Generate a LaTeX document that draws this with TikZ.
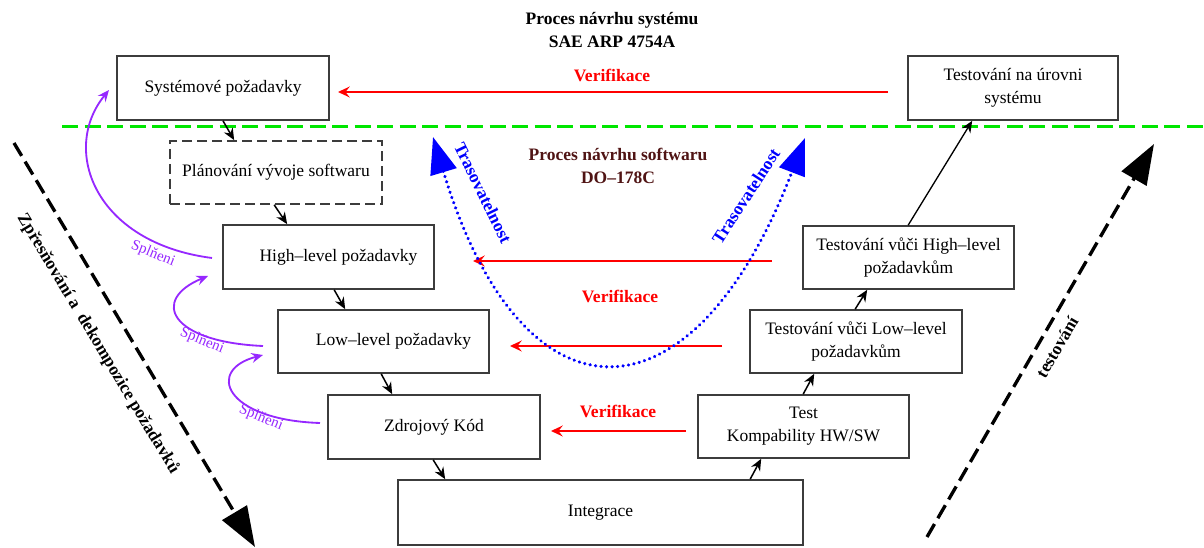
\documentclass[tikz,border=0pt]{standalone}
\usepackage{fontspec}
\setmainfont{Liberation Serif}
\usetikzlibrary{arrows.meta,calc}
\definecolor{boxgray}{RGB}{60,60,60}
\definecolor{vgreen}{RGB}{0,230,0}
\definecolor{sred}{RGB}{255,0,0}
\definecolor{tblue}{RGB}{0,0,255}
\definecolor{spl}{RGB}{150,40,255}
\definecolor{swmaroon}{RGB}{80,20,20}
\newcommand\fsmain{\fontsize{10.5}{13.8}\selectfont}
\newcommand\fsspl{\fontsize{9}{10.5}\selectfont}
\begin{document}
\begin{tikzpicture}[x=0.6pt,y=-0.6pt,
  box/.style={draw=boxgray, line width=1pt, minimum width=211*0.6pt, minimum height=63*0.6pt,
              align=center, font=\fsmain, inner sep=2pt},
  dashbox/.style={dash pattern=on 6pt off 3pt},
  conn/.style={draw=black, line width=0.9pt, -{Stealth[length=7pt,width=6pt]}},
  verif/.style={draw=sred, line width=1.1pt, -{Stealth[length=7pt,width=6.5pt,inset=2.5pt]}},
  verlab/.style={text=sred, font=\fsmain\bfseries},
  splarrow/.style={draw=spl, line width=1.1pt, -{Stealth[length=7pt,width=6pt,inset=2.5pt]}},
  spllab/.style={text=spl, font=\fsspl},
  trace/.style={draw=tblue, line width=2.1pt, line cap=round, dash pattern=on 0.01pt off 3.3pt,
                {Triangle[length=22pt,width=16pt]}-{Triangle[length=22pt,width=16pt]}},
  tracelab/.style={text=tblue, font=\fsmain\bfseries},
  bigarrow/.style={draw=black, line width=2pt, dash pattern=on 9pt off 4pt,
                   -{Triangle[length=24pt,width=17pt]}},
  biglab/.style={text=black, font=\fsmain\bfseries}
]
\useasboundingbox (0,0) rectangle (1204,548);

% green separator
\coordinate (gl) at (62,127);
\coordinate (gr) at (1204,127);
\draw[vgreen, line width=1.8pt, dash pattern=on 9.6pt off 3.9pt] (gl) -- (gr);

% titles
\node[font=\fsmain\bfseries, align=center] (title) at (612,30) {Proces návrhu systému\\SAE ARP 4754A};
\node[font=\fsmain\bfseries, align=center, text=swmaroon] (swtitle) at (618,166) {Proces návrhu softwaru\\DO–178C};

% boxes
\node[box, minimum width=212*0.6pt, minimum height=64*0.6pt] (sys) at (223,88) {Systémové požadavky};
\node[box, minimum width=210*0.6pt, minimum height=64*0.6pt] (tsys) at (1013,88) {Testování na úrovni\\systému};
\node[box, dashbox, minimum width=212*0.6pt] (plan) at (276,172.5) {Plánování vývoje softwaru};
\node[box, minimum height=64*0.6pt] (hl) at (328.5,257) {\hspace*{12pt}High–level požadavky};
\node[box] (ll) at (383.5,341.5) {\hspace*{12pt}Low–level požadavky};
\node[box, minimum width=212*0.6pt, minimum height=64*0.6pt] (zk) at (434,427) {Zdrojový Kód};
\node[box, minimum width=405*0.6pt, minimum height=65*0.6pt] (integ) at (600.5,512.5) {Integrace};
\node[box] (hwsw) at (803.5,426.5) {Test\\Kompability HW/SW};
\node[box, minimum width=212*0.6pt] (tll) at (856,341.5) {Testování vůči Low–level\\požadavkům};
\node[box] (thl) at (908.5,257.5) {Testování vůči High–level\\požadavkům};

% flow arrows
\draw[conn] (sys.south) -- ($(plan.north west)+(65,0)$);
\draw[conn] ($(plan.south west)+(105,0)$) -- ($(hl.north west)+(65,0)$);
\draw[conn] ($(hl.south west)+(112,0)$) -- ($(ll.north west)+(68,0)$);
\draw[conn] ($(ll.south west)+(104,0)$) -- ($(zk.north west)+(65,0)$);
\draw[conn] ($(zk.south west)+(106,0)$) -- ($(integ.north west)+(48,0)$);
\draw[conn] ($(integ.north west)+(353,0)$) -- ($(hwsw.south west)+(64,0)$);
\draw[conn] ($(hwsw.north west)+(106,0)$) -- ($(tll.south west)+(65,0)$);
\draw[conn] ($(tll.north west)+(106,0)$) -- ($(thl.south west)+(65,0)$);
\draw[conn, line width=0.8pt] ($(thl.north west)+(106,0)$) -- ($(tsys.south west)+(65,0)$);

% verification arrows
\coordinate (v1s) at (888,92);  \coordinate (v1e) at (338,92);
\coordinate (v2s) at (772,261); \coordinate (v2e) at (473,261);
\coordinate (v3s) at (722,346); \coordinate (v3e) at (510,346);
\coordinate (v4s) at (686,431); \coordinate (v4e) at (551,431);
\draw[verif] (v1s) -- (v1e);
\draw[verif] (v2s) -- (v2e);
\draw[verif] (v3s) -- (v3e);
\draw[verif] (v4s) -- (v4e);
\node[verlab] (vl1) at (612,75) {Verifikace};
\node[verlab] (vl2) at (620,296) {Verifikace};
\node[verlab] (vl3) at (618,411) {Verifikace};

% traceability
\coordinate (tl) at (433,137);
\coordinate (tr) at (805,138);
\draw[trace] (tl) .. controls (522,432) and (692,432) .. (tr);
\node[tracelab, rotate=-64] (trl) at (483,193) {Trasovatelnost};
\node[tracelab, rotate=57] (trr) at (746,196) {Trasovatelnost};

% fulfilment arrows
\coordinate (s1s) at (212,258); \coordinate (s1e) at (109,90);
\coordinate (s2s) at (263,346); \coordinate (s2e) at (208,276);
\coordinate (s3s) at (320,423); \coordinate (s3e) at (263,355);
\draw[splarrow] (s1s) .. controls (95,243) and (60,150) .. (s1e);
\draw[splarrow] (s2s) .. controls (170,342) and (150,300) .. (s2e);
\draw[splarrow] (s3s) .. controls (225,420) and (205,370) .. (s3e);
\node[spllab, rotate=-22] (sl1) at (153,254) {Splňeni};
\node[spllab, rotate=-22] (sl2) at (202,341) {Splňeni};
\node[spllab, rotate=-22] (sl3) at (261,418) {Splňeni};

% big dashed arrows
\coordinate (la1) at (14,143); \coordinate (la2) at (255,547);
\coordinate (ra1) at (927,537); \coordinate (ra2) at (1154,144);
\draw[bigarrow] (la1) -- (la2);
\draw[bigarrow] (ra1) -- (ra2);
\node[biglab, rotate=-59] (ll1) at (98,344) {Zpřesňování a\ \ dekompozice požadavků};
\node[biglab, rotate=60] (rl1) at (1057,347) {testování};
\end{tikzpicture}
\end{document}
